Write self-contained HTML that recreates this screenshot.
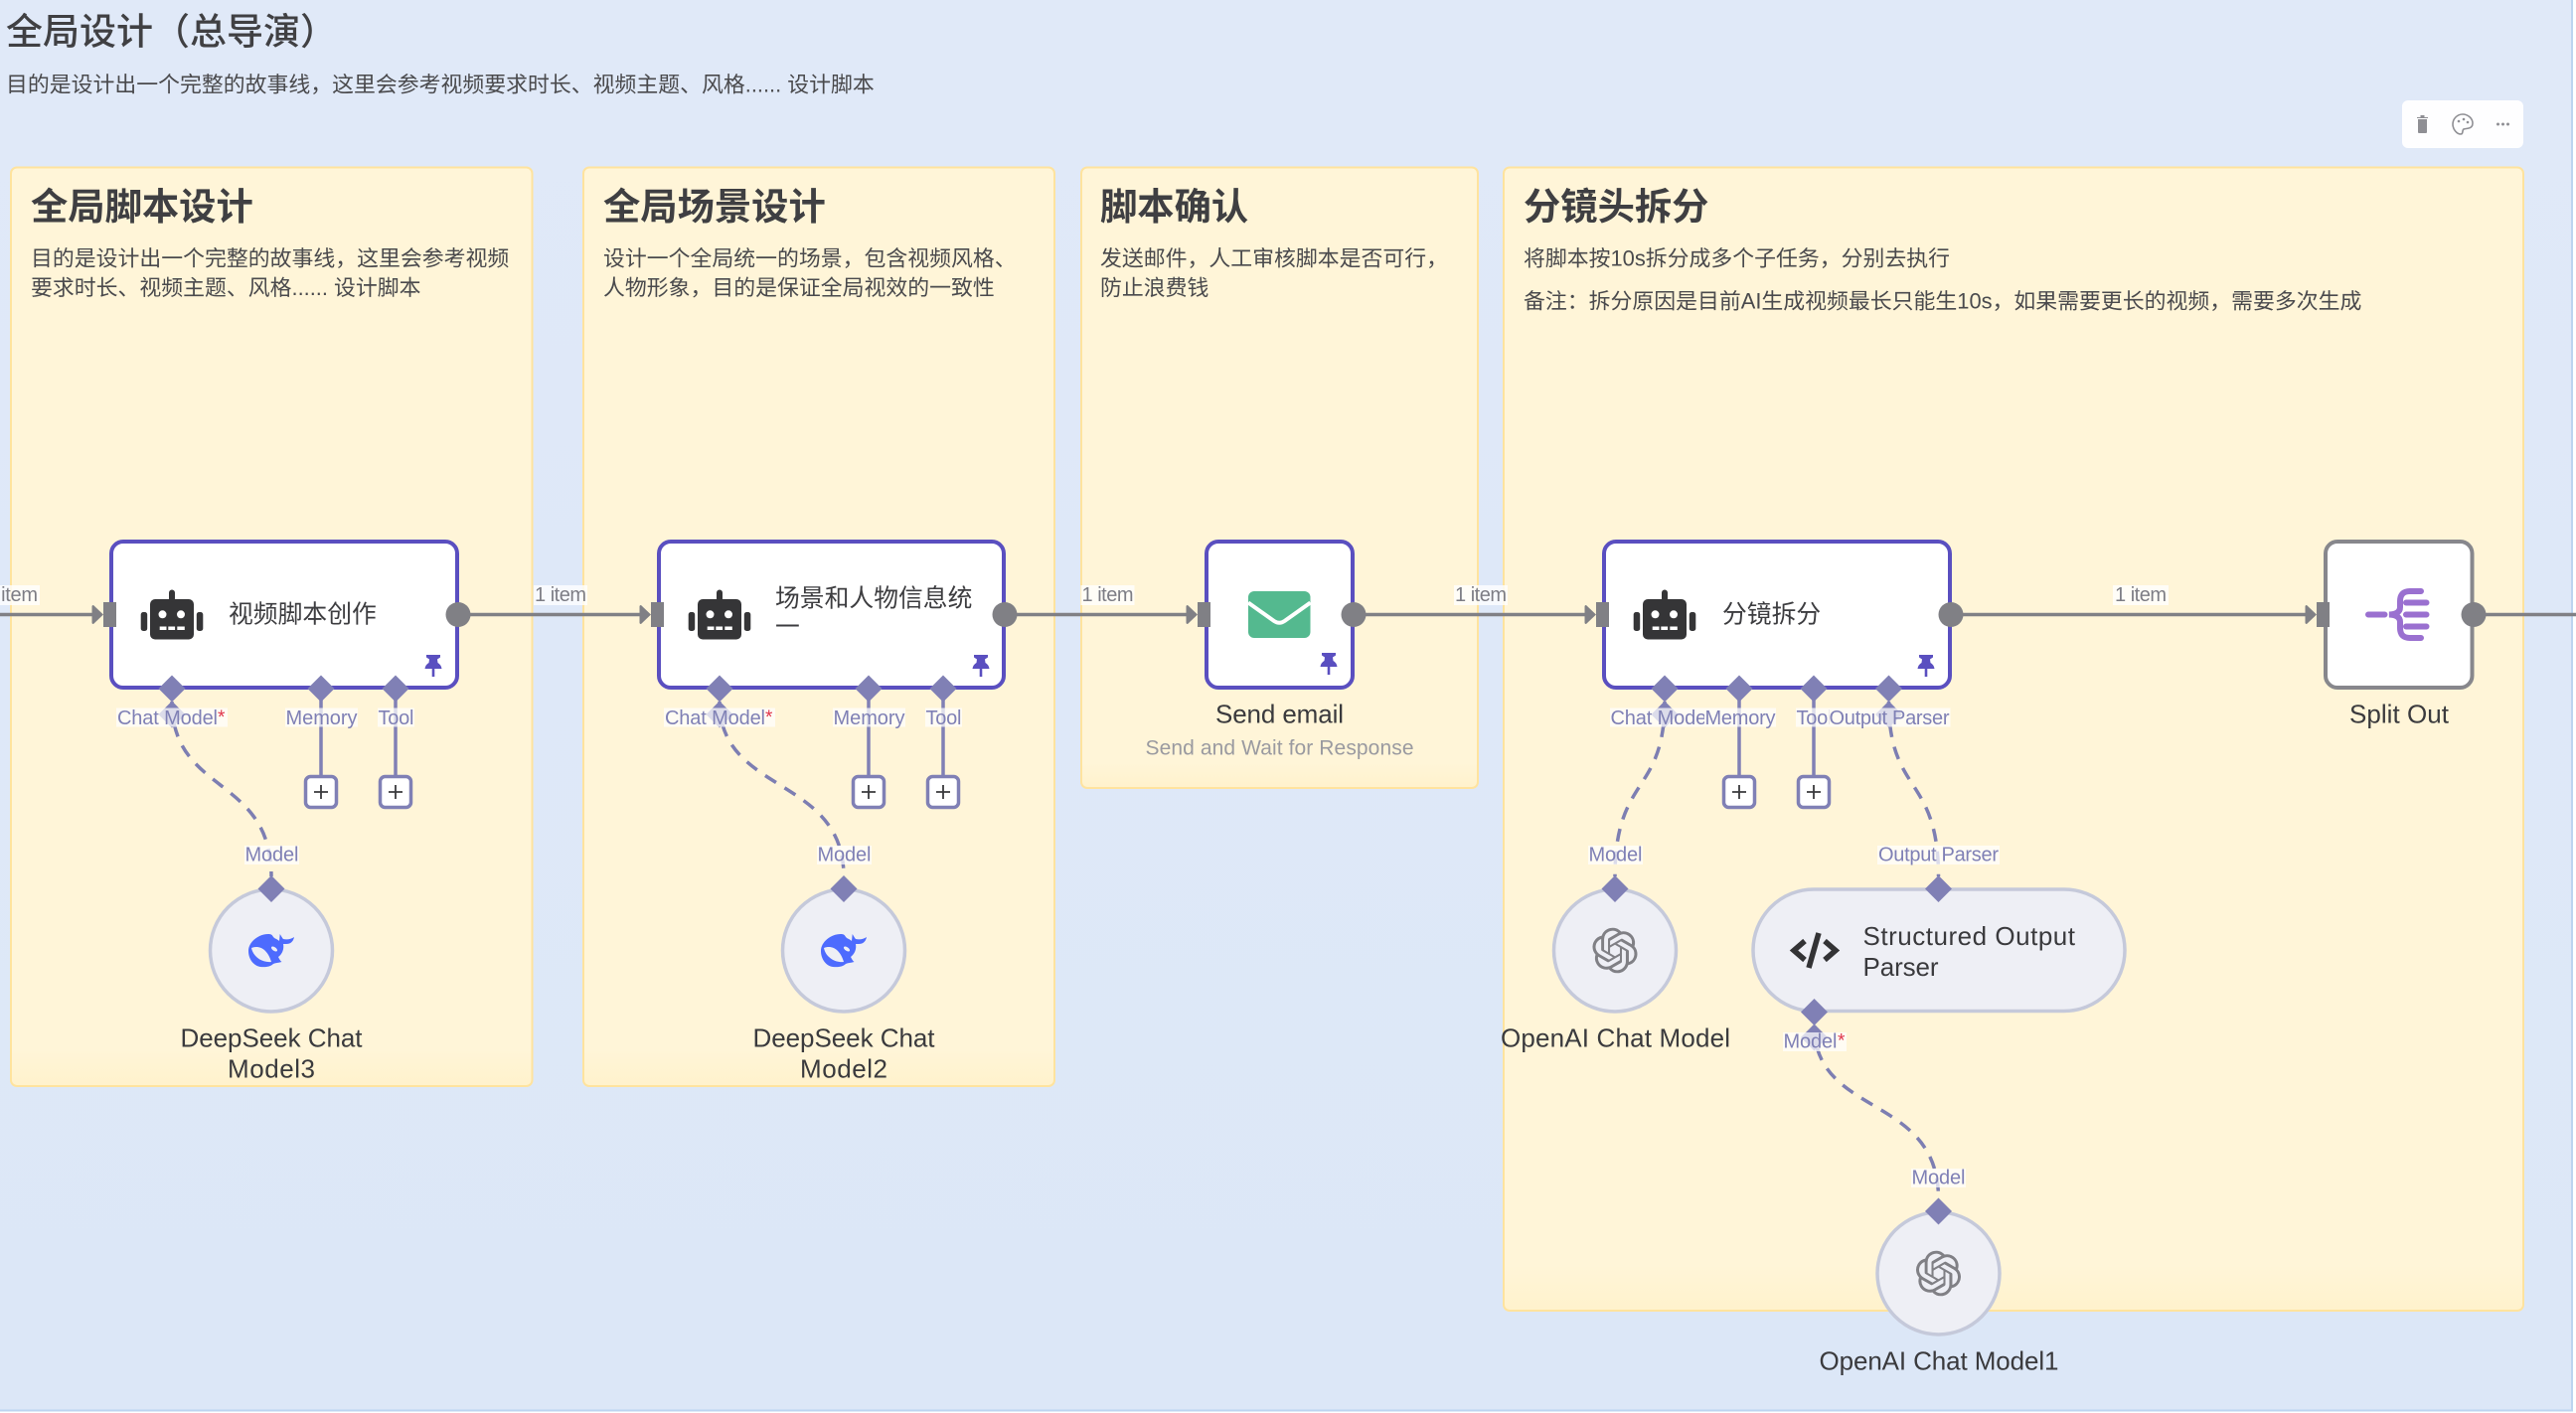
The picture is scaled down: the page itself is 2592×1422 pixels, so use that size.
<!DOCTYPE html>
<html lang="zh">
<head>
<meta charset="utf-8">
<title>全局设计（总导演）</title>
<style>
html,body{margin:0;padding:0;background:#fff;width:2592px;height:1422px;overflow:hidden}
svg{display:block}
text{font-family:"Liberation Sans","Noto Sans CJK SC",sans-serif;dominant-baseline:central}
.h1{font-size:37px;fill:#404043;font-weight:500}
.h2{font-size:37.300px;fill:#3f3f42;font-weight:700}
.p{font-size:21.880px;fill:#4a4a4d}
.node{fill:#fff;stroke:#5a4fc0;stroke-width:4}
.nl{font-size:24.800px;fill:#3d3d40}
.name{font-size:26px;fill:#3a3a3d}
.port{font-size:20px;fill:#7f80b5}
.item{font-size:20px;fill:#7d7d85}
.lb{fill:#fff;opacity:.72}
.ib{fill:#fff;opacity:.78}
.wire{stroke:#808085;stroke-width:3.600;fill:none}
.ai{stroke:#8080b5;stroke-width:3.500;fill:none}
.dash{stroke:#7d7eb2;stroke-width:3.500;fill:none;stroke-dasharray:13 10}
.dia{fill:#8080b5}
.sub{fill:#eeeff5;stroke:#c5c9da;stroke-width:3.500}
.plus{fill:#fff;stroke:#8080b5;stroke-width:3.500}
.sticky{fill:url(#st);stroke:#ffe39e;stroke-width:2}
</style>
</head>
<body>
<svg xmlns="http://www.w3.org/2000/svg" width="2592" height="1422" viewBox="0 0 2592 1422">
<defs>
<linearGradient id="bg" x1="0" y1="0" x2="0" y2="1"><stop offset="0" stop-color="#e0e9f8"/><stop offset="1" stop-color="#dce7f7"/></linearGradient>
<linearGradient id="st" x1="0" y1="0" x2="0" y2="1"><stop offset="0" stop-color="#fff5d8"/><stop offset=".96" stop-color="#fff5d8"/><stop offset="1" stop-color="#fff2cc"/></linearGradient>
<g id="robot">
<rect x="151" y="603" width="44" height="40.500" rx="5" fill="#353537"/>
<rect x="170" y="593.500" width="6" height="12" rx="3" fill="#353537"/>
<rect x="141.700" y="616" width="6.500" height="19" rx="2.500" fill="#353537"/>
<rect x="197.800" y="616" width="6.500" height="19" rx="2.500" fill="#353537"/>
<circle cx="163.500" cy="618.300" r="4" fill="#fff"/><circle cx="182" cy="618.300" r="4" fill="#fff"/>
<rect x="160.700" y="630.500" width="6.800" height="3.500" fill="#fff"/><rect x="169.300" y="630.500" width="6.800" height="3.500" fill="#fff"/><rect x="178.300" y="630.500" width="7.500" height="3.500" fill="#fff"/>
</g>
<path id="pin" fill="#5a4fc0" d="M-7-11H7V-8.500L4-6.500 4.500-3Q8-1 8.500 3H1.300V11H-1.300V3H-8.500Q-8-1-4.500-3L-4-6.500-7-8.500Z"/>
<g id="inp"><path d="M-23 -9.500 L-13 0 L-23 9.500 Q-24.500 9.500 -24.500 8 V-8 Q-24.500 -9.500 -23 -9.500Z" fill="#808085"/><rect x="-13" y="-12.500" width="13" height="25" fill="#808085"/></g>
<path id="d" d="M0-13.500 13.500 0 0 13.500-13.500 0Z" class="dia"/>
<g id="pl"><rect x="-15.500" y="-15.500" width="31" height="31" rx="5" class="plus"/><path d="M-7 0H7M0-7V7" stroke="#3a3a3d" stroke-width="1.800"/></g>
<g id="whale"><path fill="#4d6bfe" d="M-23 1C-23-8-13-16-3-16C0-16 1-15 2-13C4-11 6-11 8-9L8.700-16C10-14 11-12 12-11C16-10 20-11 23-13C22-8 19-6 15-6L12-6C13-1 11 4 7 7C8 9 9 11 10.500 12C7 13 4 13 2 14C-1 17-6 17.500-11 17C-18 16-23 9-23 1Z"/><path fill="#eeeff5" d="M-20-2C-12-5-4-1 0 12C-8 13-18 8-20-2Z"/><ellipse cx="3" cy="-1" rx="3.500" ry="1.800" transform="rotate(35 3 -1)" fill="#eeeff5"/></g>
<path id="oai" fill="#808085" transform="scale(1.9) translate(-12 -12)" d="M22.2819 9.8211a5.9847 5.9847 0 0 0-.5157-4.9108 6.0462 6.0462 0 0 0-6.5098-2.9A6.0651 6.0651 0 0 0 4.9807 4.1818a5.9847 5.9847 0 0 0-3.9977 2.9 6.0462 6.0462 0 0 0 .7427 7.0966 5.98 5.98 0 0 0 .511 4.9107 6.051 6.051 0 0 0 6.5146 2.9001A5.9847 5.9847 0 0 0 13.2599 24a6.0557 6.0557 0 0 0 5.7718-4.2058 5.9894 5.9894 0 0 0 3.9977-2.9001 6.0557 6.0557 0 0 0-.7475-7.0729zm-9.022 12.6081a4.4755 4.4755 0 0 1-2.8764-1.0408l.1419-.0804 4.7783-2.7582a.7948.7948 0 0 0 .3927-.6813v-6.7369l2.02 1.1686a.071.071 0 0 1 .038.052v5.5826a4.504 4.504 0 0 1-4.4945 4.4944zm-9.6607-4.1254a4.4708 4.4708 0 0 1-.5346-3.0137l.142.0852 4.783 2.7582a.7712.7712 0 0 0 .7806 0l5.8428-3.3685v2.3324a.0804.0804 0 0 1-.0332.0615L9.74 19.9502a4.4992 4.4992 0 0 1-6.1408-1.6464zM2.3408 7.8956a4.485 4.485 0 0 1 2.3655-1.9728V11.6a.7664.7664 0 0 0 .3879.6765l5.8144 3.3543-2.0201 1.1685a.0757.0757 0 0 1-.071 0l-4.8303-2.7865A4.504 4.504 0 0 1 2.3408 7.872zm16.5963 3.8558L13.1038 8.364 15.1192 7.2a.0757.0757 0 0 1 .071 0l4.8303 2.7913a4.4944 4.4944 0 0 1-.6765 8.1042v-5.6772a.79.79 0 0 0-.407-.667zm2.0107-3.0231l-.142-.0852-4.7735-2.7818a.7759.7759 0 0 0-.7854 0L9.409 9.2297V6.8974a.0662.0662 0 0 1 .0284-.0615l4.8303-2.7866a4.4992 4.4992 0 0 1 6.6802 4.66zM8.3065 12.863l-2.02-1.1638a.0804.0804 0 0 1-.038-.0567V6.0742a4.4992 4.4992 0 0 1 7.3757-3.4537l-.142.0805L8.704 5.459a.7948.7948 0 0 0-.3927.6813zm1.0976-2.3654l2.602-1.4998 2.6069 1.4998v2.9994l-2.5974 1.4997-2.6067-1.4997Z"/>
<clipPath id="c1"><rect x="1610" y="700" width="105" height="40"/></clipPath>
<clipPath id="c2"><rect x="1800" y="700" width="40.500" height="40"/></clipPath>
</defs>

<!-- canvas -->
<rect x="0" y="0" width="2588" height="1419" fill="url(#bg)"/>
<path d="M2588 0V1419.500H0" fill="none" stroke="#bcd4f0" stroke-width="2"/>

<text class="h1" x="6" y="32">全局设计（总导演）</text>
<text class="p" x="6" y="85">目的是设计出一个完整的故事线，这里会参考视频要求时长、视频主题、风格...... 设计脚本</text>

<!-- toolbar -->
<rect x="2417" y="101" width="122" height="48" rx="6" fill="#fff" opacity=".94"/>
<path d="M2433 120H2442V133Q2442 134 2441 134H2434Q2433 134 2433 133ZM2432 118H2443V119H2432ZM2435.500 116H2439.500V118H2435.500Z" fill="#8f8f94"/>
<path d="M2478 115C2472 115 2468 120 2468 125C2468 130 2472 135 2476 135C2479 135 2477 131 2479 130C2482 129 2488 130 2488 124C2488 119 2483 115 2478 115Z" fill="none" stroke="#8f8f94" stroke-width="1.600"/>
<circle cx="2474" cy="122" r="1.300" fill="#8f8f94"/><circle cx="2479" cy="120" r="1.300" fill="#8f8f94"/><circle cx="2483" cy="123" r="1.300" fill="#8f8f94"/>
<circle cx="2513.500" cy="125" r="1.500" fill="#8f8f94"/><circle cx="2518.500" cy="125" r="1.500" fill="#8f8f94"/><circle cx="2523.500" cy="125" r="1.500" fill="#8f8f94"/>

<!-- stickies -->
<rect class="sticky" x="11" y="168.500" width="524.500" height="924.500" rx="6"/>
<rect class="sticky" x="587" y="168.500" width="474" height="924.500" rx="6"/>
<rect class="sticky" x="1088" y="168.500" width="399" height="624.500" rx="6"/>
<rect class="sticky" x="1513" y="168.500" width="1026" height="1150.500" rx="6"/>

<text class="h2" x="31" y="208">全局脚本设计</text>
<text class="p" x="31" y="260">目的是设计出一个完整的故事线，这里会参考视频</text>
<text class="p" x="31" y="289.500">要求时长、视频主题、风格...... 设计脚本</text>

<text class="h2" x="607" y="208">全局场景设计</text>
<text class="p" x="607" y="260">设计一个全局统一的场景，包含视频风格、</text>
<text class="p" x="607" y="289.500">人物形象，目的是保证全局视效的一致性</text>

<text class="h2" x="1107" y="208">脚本确认</text>
<text class="p" x="1107" y="260">发送邮件，人工审核脚本是否可行，</text>
<text class="p" x="1107" y="289.500">防止浪费钱</text>

<text class="h2" x="1533" y="208">分镜头拆分</text>
<text class="p" x="1533" y="260">将脚本按10s拆分成多个子任务，分别去执行</text>
<text class="p" x="1533" y="303">备注：拆分原因是目前AI生成视频最长只能生10s，如果需要更长的视频，需要多次生成</text>

<!-- main wires -->
<path class="wire" d="M0 618.500H94M461 618.500H645M1011 618.500H1196M1362 618.500H1597M1963 618.500H2322M2489 618.500H2592"/>

<!-- item labels -->
<rect class="ib" x="0" y="589" width="40" height="20"/><text class="item" x="-15" y="599" textLength="53">1 item</text>
<rect class="ib" x="537" y="589" width="54" height="20"/><text class="item" x="538" y="599" textLength="52">1 item</text>
<rect class="ib" x="1087.500" y="589" width="54" height="20"/><text class="item" x="1088.500" y="599" textLength="52">1 item</text>
<rect class="ib" x="1463" y="589" width="54" height="20"/><text class="item" x="1464" y="599" textLength="52">1 item</text>
<rect class="ib" x="2126" y="589" width="56" height="20"/><text class="item" x="2128" y="599" textLength="52">1 item</text>

<!-- sub-connection wires -->
<path class="ai" d="M323 693V782M398 693V782M874 693V782M949 693V782M1750 693V782M1825 693V782"/>
<path class="dash" d="M173 706C173 800 273 780 273 882"/>
<path class="dash" d="M724 706C724 800 849 780 849 882"/>
<path class="dash" d="M1675 706C1675 800 1625 780 1625 882"/>
<path class="dash" d="M1900.500 706C1900.500 800 1950.500 780 1950.500 882"/>
<path class="dash" d="M1825.500 1032C1825.500 1125 1950.500 1100 1950.500 1206"/>

<!-- node 1 -->
<rect class="node" x="112" y="545" width="348" height="147" rx="12"/>
<use href="#robot"/>
<text class="nl" x="230" y="619">视频脚本创作</text>
<use href="#pin" x="436" y="670"/>
<circle cx="461" cy="618.500" r="12.500" fill="#808085"/>
<g transform="translate(117 618.500)"><use href="#inp"/></g>
<use href="#d" x="173" y="693"/><use href="#d" x="323" y="693"/><use href="#d" x="398" y="693"/>
<use href="#d" x="173" y="719"/>
<rect class="lb" x="117" y="712.500" width="112" height="19"/><text class="port" x="118" y="723" textLength="101">Chat Model</text><text x="219" y="722.500" font-size="19" fill="#e0344a">*</text>
<rect class="lb" x="287" y="712.500" width="73" height="19"/><text class="port" x="287.500" y="723" textLength="72">Memory</text>
<rect class="lb" x="380" y="712.500" width="37" height="19"/><text class="port" x="380.500" y="723" textLength="36">Tool</text>
<use href="#pl" x="323" y="797"/><use href="#pl" x="398" y="797"/>
<circle class="sub" cx="273" cy="956.500" r="61.500"/>
<use href="#d" x="273" y="894.500"/>
<rect class="lb" x="246" y="851" width="55" height="19"/><text class="port" x="246.500" y="860.500" textLength="54">Model</text>
<use href="#whale" x="273" y="956"/>
<text class="name" x="273" y="1044.500" text-anchor="middle" textLength="183">DeepSeek Chat</text>
<text class="name" x="273" y="1075.500" text-anchor="middle" textLength="88">Model3</text>

<!-- node 2 -->
<rect class="node" x="663" y="545" width="347" height="147" rx="12"/>
<use href="#robot" x="551"/>
<text class="nl" x="780" y="603">场景和人物信息统</text>
<text class="nl" x="780" y="632">一</text>
<use href="#pin" x="987" y="670"/>
<circle cx="1011" cy="618.500" r="12.500" fill="#808085"/>
<g transform="translate(668 618.500)"><use href="#inp"/></g>
<use href="#d" x="724" y="693"/><use href="#d" x="874" y="693"/><use href="#d" x="949" y="693"/>
<use href="#d" x="724" y="719"/>
<rect class="lb" x="668" y="712.500" width="112" height="19"/><text class="port" x="669" y="723" textLength="101">Chat Model</text><text x="770" y="722.500" font-size="19" fill="#e0344a">*</text>
<rect class="lb" x="838" y="712.500" width="73" height="19"/><text class="port" x="838.500" y="723" textLength="72">Memory</text>
<rect class="lb" x="931" y="712.500" width="37" height="19"/><text class="port" x="931.500" y="723" textLength="36">Tool</text>
<use href="#pl" x="874" y="797"/><use href="#pl" x="949" y="797"/>
<circle class="sub" cx="849" cy="956.500" r="61.500"/>
<use href="#d" x="849" y="894.500"/>
<rect class="lb" x="822" y="851" width="55" height="19"/><text class="port" x="822.500" y="860.500" textLength="54">Model</text>
<use href="#whale" x="849" y="956"/>
<text class="name" x="849" y="1044.500" text-anchor="middle" textLength="183">DeepSeek Chat</text>
<text class="name" x="849" y="1075.500" text-anchor="middle" textLength="88">Model2</text>

<!-- send email -->
<rect class="node" x="1214" y="545" width="147" height="147" rx="12"/>
<rect x="1256" y="595" width="62.500" height="47" rx="6" fill="#54b98f"/>
<path d="M1256 606.500L1282 625Q1287.300 628.500 1292.500 625L1318.500 606.500" fill="none" stroke="#fff" stroke-width="4"/>
<use href="#pin" x="1337" y="668"/>
<circle cx="1362" cy="618.500" r="12.500" fill="#808085"/>
<g transform="translate(1218 618.500)"><use href="#inp"/></g>
<text class="name" x="1287.500" y="718.500" text-anchor="middle" textLength="129">Send email</text>
<text x="1287.500" y="753" text-anchor="middle" font-size="21" fill="#9a9aa0" textLength="270">Send and Wait for Response</text>

<!-- node 4 -->
<rect class="node" x="1614" y="545" width="348" height="147" rx="12"/>
<use href="#robot" x="1502"/>
<text class="nl" x="1733" y="619">分镜拆分</text>
<use href="#pin" x="1938" y="670"/>
<circle cx="1963" cy="618.500" r="12.500" fill="#808085"/>
<g transform="translate(1619 618.500)"><use href="#inp"/></g>
<use href="#d" x="1675" y="693"/><use href="#d" x="1750" y="693"/><use href="#d" x="1825" y="693"/><use href="#d" x="1900.500" y="693"/>
<use href="#d" x="1675" y="719"/><use href="#d" x="1900.500" y="719"/>
<rect class="lb" x="1620" y="712.500" width="95" height="19"/><text class="port" x="1620.500" y="723" textLength="101" clip-path="url(#c1)">Chat Model</text>
<rect class="lb" x="1715" y="712.500" width="72" height="19"/><text class="port" x="1715.500" y="723" textLength="71">Memory</text>
<rect class="lb" x="1807" y="712.500" width="33.500" height="19"/><text class="port" x="1807.500" y="723" textLength="36" clip-path="url(#c2)">Tool</text>
<rect class="lb" x="1840.500" y="712.500" width="122" height="19"/><text class="port" x="1840.500" y="723" textLength="121">Output Parser</text>
<use href="#pl" x="1750" y="797"/><use href="#pl" x="1825" y="797"/>

<circle class="sub" cx="1625" cy="956.500" r="61.500"/>
<use href="#d" x="1625" y="894.500"/>
<rect class="lb" x="1598" y="851" width="55" height="19"/><text class="port" x="1598.500" y="860.500" textLength="54">Model</text>
<g transform="translate(1625 956.500)"><use href="#oai"/></g>
<text class="name" x="1625.500" y="1044.500" text-anchor="middle" textLength="231">OpenAI Chat Model</text>

<rect class="sub" x="1764" y="895" width="374" height="122.500" rx="61"/>
<use href="#d" x="1950.500" y="894.500"/>
<rect class="lb" x="1889" y="851" width="123" height="19"/><text class="port" x="1890" y="860.500" textLength="121">Output Parser</text>
<path d="M1816 947L1805 956.500L1816 966M1836 947L1847 956.500L1836 966" fill="none" stroke="#333335" stroke-width="5.500"/>
<path d="M1830 939L1820 974" fill="none" stroke="#333335" stroke-width="5.500"/>
<text class="name" x="1874.500" y="942" textLength="213.500">Structured Output</text>
<text class="name" x="1874.500" y="973" textLength="76">Parser</text>
<use href="#d" x="1825.500" y="1018.500"/>
<use href="#d" x="1825.500" y="1044"/>
<rect class="lb" x="1794" y="1039" width="64" height="19"/><text class="port" x="1794.500" y="1048.500" textLength="54">Model</text><text x="1849" y="1048" font-size="19" fill="#e0344a">*</text>

<circle class="sub" cx="1950.500" cy="1281.500" r="61.500"/>
<use href="#d" x="1950.500" y="1219"/>
<rect class="lb" x="1923" y="1176" width="55" height="19"/><text class="port" x="1923.500" y="1185.500" textLength="54">Model</text>
<g transform="translate(1950.500 1281.500)"><use href="#oai"/></g>
<text class="name" x="1951" y="1369.500" text-anchor="middle" textLength="241">OpenAI Chat Model1</text>

<!-- split out -->
<rect x="2340" y="545" width="147.500" height="147" rx="12" fill="#fff" stroke="#87878c" stroke-width="4"/>
<path d="M2383 618.500H2399.500M2421 606.500H2441.500M2421 618.500H2441.500M2421 630.500H2441.500" stroke="#9a70d0" stroke-width="6" stroke-linecap="round" fill="none"/>
<path d="M2436 595H2425Q2415 595 2415 605V611Q2415 618 2404 618.500Q2415 619 2415 626V632Q2415 642 2425 642H2436" stroke="#9a70d0" stroke-width="6" fill="none" stroke-linecap="round"/>
<circle cx="2489" cy="618.500" r="12.500" fill="#808085"/>
<g transform="translate(2344 618.500)"><use href="#inp"/></g>
<text class="name" x="2414" y="718.500" text-anchor="middle" textLength="100">Split Out</text>
</svg>
</body>
</html>
